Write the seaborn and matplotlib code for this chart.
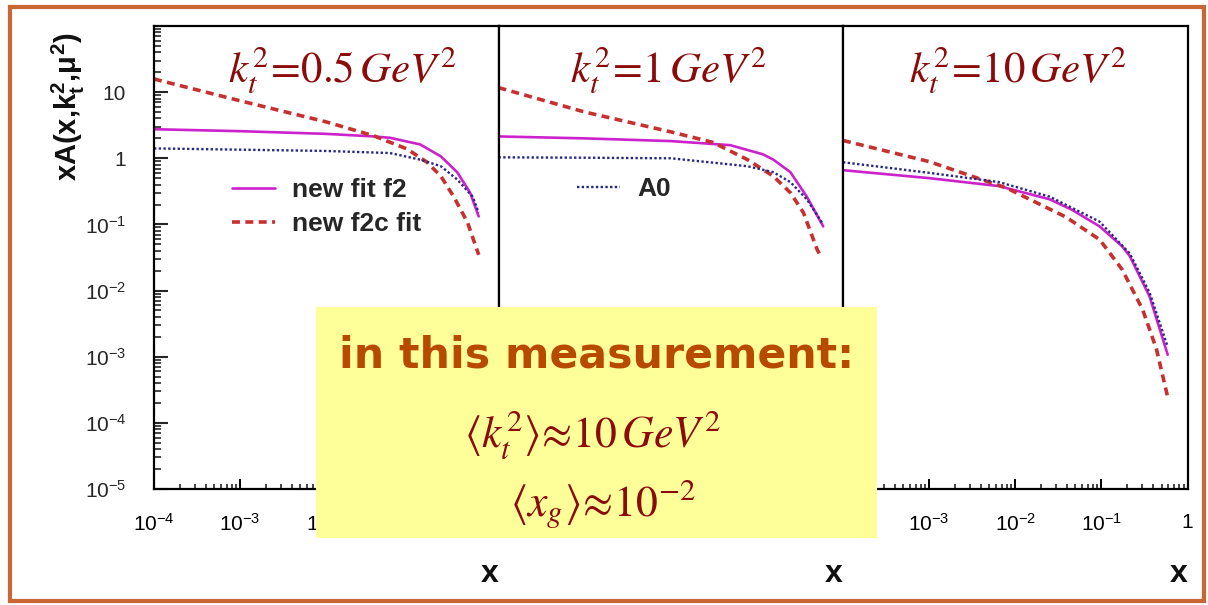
import numpy as np
import pandas as pd
import matplotlib
matplotlib.use("Agg")
import matplotlib.pyplot as plt
from matplotlib.patches import Rectangle
from matplotlib.ticker import FixedLocator, LogLocator, FuncFormatter, NullFormatter
import seaborn as sns

# ---------------------------------------------------------------- data
panel_titles = [r"$k_t^2\!=\!0.5\,GeV^2$", r"$k_t^2\!=\!1\,GeV^2$", r"$k_t^2\!=\!10\,GeV^2$"]
series_labels = ["new fit f2", "new f2c fit", "A0"]

# kt^2 = 0.5 GeV^2
f2_x_05 = [1e-4, 1e-3, 1e-2, 0.0355, 0.055, 0.123, 0.214, 0.331, 0.468, 0.589]
f2_y_05 = [2.75, 2.57, 2.34, 2.14, 2.04, 1.62, 1.07, 0.617, 0.302, 0.132]
f2c_x_05 = [1e-4, 1e-3, 1e-2, 0.0355, 0.087, 0.148, 0.214, 0.302, 0.437, 0.589]
f2c_y_05 = [15.8, 7.4, 3.55, 2.19, 1.38, 0.871, 0.537, 0.263, 0.107, 0.0347]
a0_x_05 = [1e-4, 1e-3, 1e-2, 0.055, 0.123, 0.214, 0.331, 0.501, 0.589]
a0_y_05 = [1.41, 1.35, 1.29, 1.20, 0.955, 0.759, 0.479, 0.263, 0.151]

# kt^2 = 1 GeV^2
f2_x_1 = [1e-4, 1e-3, 1e-2, 0.049, 0.117, 0.155, 0.245, 0.380, 0.589]
f2_y_1 = [2.14, 2.0, 1.82, 1.58, 1.15, 0.955, 0.617, 0.263, 0.0933]
f2c_x_1 = [1e-4, 1e-3, 1e-2, 0.0309, 0.0776, 0.155, 0.245, 0.347, 0.501, 0.550]
f2c_y_1 = [11.7, 5.01, 2.51, 1.74, 0.955, 0.537, 0.302, 0.151, 0.0417, 0.0331]
a0_x_1 = [1e-4, 1e-3, 1e-2, 0.0776, 0.155, 0.245, 0.380, 0.589]
a0_y_1 = [1.035, 1.02, 1.0, 0.759, 0.617, 0.437, 0.240, 0.100]

# kt^2 = 10 GeV^2
f2_x_10 = [1e-4, 1e-3, 0.00646, 0.0251, 0.0457, 0.0955, 0.174, 0.214, 0.363, 0.589]
f2_y_10 = [0.661, 0.501, 0.380, 0.240, 0.166, 0.0933, 0.0468, 0.0331, 0.00813, 0.00107]
f2c_x_10 = [1e-4, 1e-3, 0.00794, 0.0389, 0.0955, 0.174, 0.302, 0.437, 0.589]
f2c_y_10 = [1.86, 0.891, 0.355, 0.129, 0.0589, 0.0209, 0.00513, 0.00129, 0.000245]
a0_x_10 = [1e-4, 1e-3, 0.00646, 0.0251, 0.0955, 0.214, 0.363, 0.589]
a0_y_10 = [0.871, 0.603, 0.437, 0.263, 0.110, 0.0363, 0.00933, 0.00141]

x_ticks = [1e-4, 1e-3, 1e-2, 1e-1, 1.0]
y_ticks = [1e-5, 1e-4, 1e-3, 1e-2, 1e-1, 1.0, 10.0]
# x tick labels printed on each panel (the rest sit beneath the note box)
x_labelled = [[1e-4, 1e-3, 1e-2], [], [1e-3, 1e-2, 1e-1, 1.0]]

box_heading = "in this measurement:"
box_lines = [r"$\langle k_t^2\rangle\!\approx\!10\,GeV^2$", r"$\langle x_g\rangle\!\approx\!10^{-2}$"]

# ---------------------------------------------------------------- style
sns.set_theme(style="white")
plt.rcParams["font.family"] = ["Liberation Sans", "DejaVu Sans"]
plt.rcParams["mathtext.fontset"] = "custom"
plt.rcParams["mathtext.rm"] = "Liberation Sans"
plt.rcParams["mathtext.it"] = "Liberation Sans:italic"
plt.rcParams["mathtext.bf"] = "Liberation Sans:bold"

C_F2 = "#CC22CC"
C_F2C = "#C83030"
C_A0 = "#26268A"
C_TITLE = "#8B0A0A"
C_HEAD = "#B84A00"
C_FRAME = "#CB6634"

W, H = 1208, 605
fig = plt.figure(figsize=(W / 100, H / 100), dpi=100)
fig.patch.set_facecolor("white")

left_px, top_px, bottom_px, panel_w = 154, 26, 489, 344.5


def pow_text(v):
    e = int(round(np.log10(v)))
    if e == 0:
        return "1"
    if e == 1:
        return "10"
    return r"$\mathregular{10^{%d}}$" % e


def make_formatter(shown):
    def fmt(v, pos):
        if any(np.isclose(v, s) for s in shown):
            return pow_text(v)
        return ""
    return FuncFormatter(fmt)


panels = [
    (f2_x_05, f2_y_05, f2c_x_05, f2c_y_05, a0_x_05, a0_y_05),
    (f2_x_1, f2_y_1, f2c_x_1, f2c_y_1, a0_x_1, a0_y_1),
    (f2_x_10, f2_y_10, f2c_x_10, f2c_y_10, a0_x_10, a0_y_10),
]
title_xpos = [0.546, 0.493, 0.508]

axes = []
for i, (fx, fy, cx, cy, ax_, ay) in enumerate(panels):
    x0 = left_px + i * panel_w
    ax = fig.add_axes([x0 / W, 1 - bottom_px / H, panel_w / W, (bottom_px - top_px) / H])
    ax.set_facecolor("white")
    sns.lineplot(x=fx, y=fy, ax=ax, color=C_F2, lw=1.9, linestyle="-",
                 label=series_labels[0], estimator=None, legend=False)
    sns.lineplot(x=cx, y=cy, ax=ax, color=C_F2C, lw=2.6, linestyle=(0, (2.2, 1.5)),
                 label=series_labels[1], estimator=None, legend=False)
    sns.lineplot(x=ax_, y=ay, ax=ax, color=C_A0, lw=1.7, linestyle=(0, (1.0, 1.0)),
                 label=series_labels[2], estimator=None, legend=False)
    ax.set_xscale("log")
    ax.set_yscale("log")
    ax.set_xlim(1e-4, 1.0)
    ax.set_ylim(1e-5, 1e2)
    for s in ax.spines.values():
        s.set_color("black")
        s.set_linewidth(1.6)
    ax.xaxis.set_major_locator(FixedLocator(x_ticks))
    ax.xaxis.set_minor_locator(LogLocator(base=10, subs=np.arange(2, 10), numticks=50))
    ax.xaxis.set_major_formatter(make_formatter(x_labelled[i]))
    ax.xaxis.set_minor_formatter(NullFormatter())
    ax.tick_params(axis="x", which="major", direction="in", length=7, width=1.4,
                   labelsize=15, pad=17, bottom=True, top=False, colors="black")
    ax.tick_params(axis="x", which="minor", direction="in", length=3.5, width=1.2,
                   bottom=True, top=False)
    if i == 0:
        ax.yaxis.set_major_locator(FixedLocator(y_ticks))
        ax.yaxis.set_minor_locator(LogLocator(base=10, subs=np.arange(2, 10), numticks=50))
        ax.yaxis.set_major_formatter(FuncFormatter(lambda v, p: pow_text(v)))
        ax.yaxis.set_minor_formatter(NullFormatter())
        ax.tick_params(axis="y", which="major", direction="in", length=10, width=1.5,
                       labelsize=15, pad=20, left=True, right=False)
        ax.tick_params(axis="y", which="minor", direction="in", length=5, width=1.2,
                       left=True, right=False)
    else:
        ax.tick_params(axis="y", which="both", left=False, right=False, labelleft=False)
    ax.set_xlabel("")
    ax.set_ylabel("")
    ax.text(title_xpos[i], 0.877, panel_titles[i], transform=ax.transAxes,
            ha="center", va="baseline", fontsize=31, color=C_TITLE, math_fontfamily="stix")
    ax.text(0.974, -0.184, "x", transform=ax.transAxes, ha="center", va="center",
            fontsize=23, fontweight="bold", color="#111111")
    axes.append(ax)

# legends
leg_font = {"family": "Liberation Sans", "weight": "bold", "size": 19}
lines0 = axes[0].get_lines()
axes[0].legend(handles=[lines0[0], lines0[1]], labels=series_labels[:2],
               loc="upper left", bbox_to_anchor=(0.226, 0.671), frameon=False,
               prop=leg_font, handlelength=1.63, handletextpad=0.64, labelspacing=0.36,
               borderpad=0, borderaxespad=0)
lines1 = axes[1].get_lines()
axes[1].legend(handles=[lines1[2]], labels=[series_labels[2]],
               loc="upper left", bbox_to_anchor=(0.229, 0.673), frameon=False,
               prop=leg_font, handlelength=1.63, handletextpad=0.64,
               borderpad=0, borderaxespad=0)

# y axis title
fig.text(68 / W, 1 - 107 / H,
         r"xA(x,k$_{\mathregular{t}}^{\mathregular{2}}$,$\mathregular{\mu}^{\mathregular{2}}$)",
         rotation=90, ha="center", va="center", fontsize=21, fontweight="bold",
         color="#111111")

# highlighted note box
fig.add_artist(Rectangle((316 / W, 1 - 538 / H), 561 / W, 231 / H,
                         transform=fig.transFigure, facecolor="#FFFF99",
                         edgecolor="none", zorder=10))
fig.text(597 / W, 1 - 367 / H, box_heading, ha="center", va="baseline",
         fontsize=30.7, fontweight="bold", family="DejaVu Sans", color=C_HEAD, zorder=11)
fig.text(593 / W, 1 - 447 / H, box_lines[0], ha="center", va="baseline",
         fontsize=31.5, color=C_TITLE, math_fontfamily="stix", zorder=11)
fig.text(603 / W, 1 - 516 / H, box_lines[1], ha="center", va="baseline",
         fontsize=31.5, color=C_TITLE, math_fontfamily="stix", zorder=11)

# slide frame
fig.add_artist(Rectangle((10 / W, 1 - 601 / H), 1194 / W, 594 / H,
                         transform=fig.transFigure, facecolor="none",
                         edgecolor=C_FRAME, lw=3.0, zorder=12))

fig.savefig("out.png", dpi=100, facecolor="white")
